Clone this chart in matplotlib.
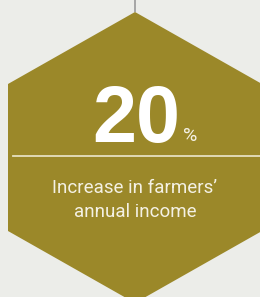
import numpy as np
import matplotlib.pyplot as plt
from matplotlib.patches import Polygon

value = 20
unit = '%'
caption = ["Increase in farmers\u2019", "annual income"]

bg = '#ecede9'
olive = '#9b8829'

fig = plt.figure(figsize=(2.6, 2.97), dpi=100, facecolor=bg)
ax = fig.add_axes([0, 0, 1, 1])
ax.set_xlim(0, 260)
ax.set_ylim(297, 0)
ax.axis('off')
ax.set_facecolor(bg)

# hexagon (pointy top)
cx, top, half_w, rise, side = 135, 12, 127, 72, 147
hexagon = [(cx, top), (cx + half_w, top + rise), (cx + half_w, top + rise + side),
           (cx, top + 2 * rise + side), (cx - half_w, top + rise + side), (cx - half_w, top + rise)]
ax.add_patch(Polygon(hexagon, closed=True, facecolor=olive, edgecolor='none'))

# hanging line
ax.plot([cx, cx], [0, top], color='#9a9a9a', lw=1.2, solid_capstyle='butt')

# big number
ax.text(136, 142, str(value), color='white', fontsize=57, fontweight='bold',
        family='Liberation Sans', ha='center', va='baseline')
ax.text(183, 141, unit, color='#f4f1e4', fontsize=14, family='Roboto',
        ha='left', va='baseline')

# divider
ax.plot([13, 262], [156, 156], color='#e6e0c0', lw=1.3)

# caption
for i, line in enumerate(caption):
    ax.text(cx, 193 + i * 24, line, color='#f4f1e4', fontsize=13.5,
            family='Roboto', ha='center', va='baseline')

fig.savefig('out.png', dpi=100, facecolor=bg)
